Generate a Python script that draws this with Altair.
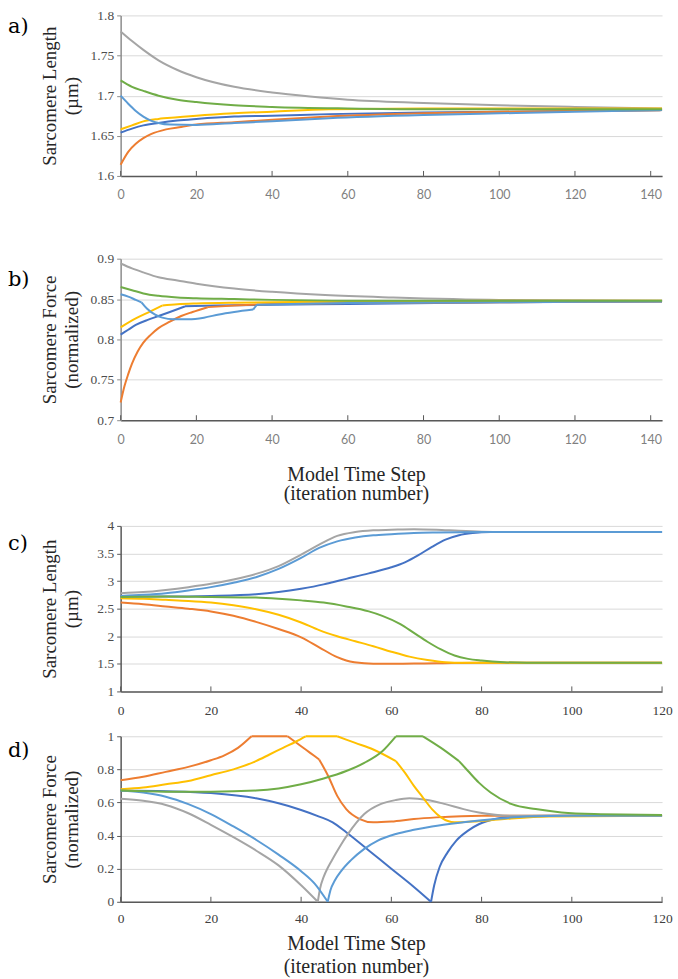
import altair as alt
import pandas as pd

# ---------------- series (Excel palette order) ----------------
SERIES = ["s1", "s2", "s3", "s4", "s5", "s6"]
COLORS = ["#4472C4", "#ED7D31", "#A5A5A5", "#FFC000", "#5B9BD5", "#70AD47"]

# ---------------- panel a: sarcomere length ----------------
A_X_S1 = [0, 3, 6, 10, 15, 20, 30, 40, 55, 80, 100, 120, 143]
A_Y_S1 = [1.654, 1.659, 1.663, 1.666, 1.669, 1.671, 1.674, 1.675, 1.677, 1.679, 1.680, 1.681, 1.682]
A_X_S2 = [0, 2, 4, 6, 8, 12, 16, 20, 30, 40, 55, 80, 100, 120, 143]
A_Y_S2 = [1.614, 1.630, 1.640, 1.647, 1.652, 1.658, 1.661, 1.664, 1.667, 1.670, 1.674, 1.678, 1.680, 1.681, 1.682]
A_X_S3 = [0, 3, 6, 10, 15, 20, 30, 40, 50, 60, 80, 100, 120, 143]
A_Y_S3 = [1.780, 1.768, 1.757, 1.744, 1.732, 1.723, 1.711, 1.704, 1.699, 1.695, 1.691, 1.688, 1.686, 1.684]
A_X_S4 = [0, 3, 6, 10, 15, 20, 30, 40, 55, 80, 143]
A_Y_S4 = [1.658, 1.663, 1.668, 1.671, 1.673, 1.675, 1.678, 1.680, 1.683, 1.684, 1.684]
A_X_S5 = [0, 2, 4, 6, 8, 10, 13, 20, 30, 40, 55, 80, 100, 120, 143]
A_Y_S5 = [1.700, 1.690, 1.681, 1.674, 1.669, 1.666, 1.664, 1.6635, 1.666, 1.668, 1.672, 1.676, 1.678, 1.680, 1.682]
A_X_S6 = [0, 3, 6, 10, 15, 20, 30, 40, 60, 80, 143]
A_Y_S6 = [1.719, 1.711, 1.706, 1.700, 1.695, 1.692, 1.688, 1.686, 1.684, 1.683, 1.683]

# ---------------- panel b: sarcomere force ----------------
B_X_S1 = [0, 2, 4, 7, 10, 13, 17, 25, 40, 60, 100, 143]
B_Y_S1 = [0.806, 0.812, 0.818, 0.824, 0.829, 0.834, 0.841, 0.842, 0.843, 0.844, 0.846, 0.847]
B_BRK_S1 = [17]
B_X_S2 = [0, 1, 2, 3, 4.5, 6, 8, 10, 13, 16, 19, 23, 30, 40, 60, 100, 143]
B_Y_S2 = [0.722, 0.742, 0.757, 0.770, 0.785, 0.796, 0.806, 0.814, 0.822, 0.829, 0.834, 0.840, 0.842, 0.844, 0.845, 0.846, 0.847]
B_BRK_S2 = [23]
B_X_S3 = [0, 3, 6, 10, 15, 20, 30, 40, 54, 72, 100, 143]
B_Y_S3 = [0.894, 0.888, 0.883, 0.877, 0.873, 0.869, 0.863, 0.859, 0.855, 0.852, 0.849, 0.848]
B_BRK_S3 = []
B_X_S4 = [0, 4, 8, 11, 15, 20, 30, 40, 60, 100, 143]
B_Y_S4 = [0.815, 0.826, 0.835, 0.842, 0.8435, 0.8445, 0.8455, 0.846, 0.847, 0.848, 0.848]
B_BRK_S4 = [11]
B_X_S5 = [0, 2, 4, 5.5, 7, 9, 11, 14, 18, 22, 26, 30, 35, 36, 45, 60, 100, 143]
B_Y_S5 = [0.856, 0.853, 0.849, 0.846, 0.838, 0.831, 0.827, 0.825, 0.825, 0.827, 0.831, 0.834, 0.837, 0.843, 0.844, 0.845, 0.846, 0.847]
B_BRK_S5 = [5.5, 35, 36]
B_X_S6 = [0, 3, 6, 10, 15, 20, 30, 40, 60, 143]
B_Y_S6 = [0.865, 0.861, 0.857, 0.854, 0.852, 0.851, 0.850, 0.849, 0.848, 0.848]
B_BRK_S6 = []

# ---------------- panel c: sarcomere length ----------------
C_X_S1 = [0, 10, 20, 30, 35, 40, 45, 47, 50, 55, 60, 63, 66, 69, 72, 75, 78, 82, 120]
C_Y_S1 = [2.72, 2.72, 2.73, 2.76, 2.80, 2.86, 2.94, 2.98, 3.04, 3.14, 3.25, 3.34, 3.47, 3.62, 3.75, 3.83, 3.87, 3.89, 3.89]
C_X_S2 = [0, 5, 10, 15, 20, 25, 30, 35, 40, 44, 48, 50, 54, 58, 65, 70, 80, 120]
C_Y_S2 = [2.61, 2.58, 2.54, 2.50, 2.45, 2.37, 2.26, 2.13, 1.98, 1.80, 1.62, 1.56, 1.51, 1.50, 1.505, 1.51, 1.52, 1.52]
C_X_S3 = [0, 5, 10, 15, 20, 25, 30, 35, 40, 44, 48, 52, 56, 60, 65, 70, 75, 80, 85, 120]
C_Y_S3 = [2.78, 2.80, 2.84, 2.89, 2.95, 3.03, 3.13, 3.27, 3.48, 3.66, 3.82, 3.89, 3.92, 3.93, 3.94, 3.93, 3.91, 3.895, 3.89, 3.89]
C_X_S4 = [0, 5, 10, 15, 20, 25, 30, 35, 40, 44, 48, 52, 56, 60, 64, 68, 72, 76, 120]
C_Y_S4 = [2.69, 2.68, 2.66, 2.64, 2.61, 2.56, 2.49, 2.39, 2.25, 2.11, 2.00, 1.91, 1.82, 1.72, 1.63, 1.57, 1.53, 1.52, 1.52]
C_X_S5 = [0, 5, 10, 15, 20, 25, 30, 35, 40, 44, 48, 52, 56, 60, 65, 70, 80, 120]
C_Y_S5 = [2.73, 2.75, 2.78, 2.83, 2.89, 2.97, 3.07, 3.22, 3.42, 3.60, 3.72, 3.79, 3.83, 3.85, 3.87, 3.88, 3.89, 3.89]
C_X_S6 = [0, 10, 20, 30, 35, 40, 45, 50, 55, 58, 62, 65, 68, 71, 74, 77, 80, 85, 90, 120]
C_Y_S6 = [2.71, 2.72, 2.71, 2.70, 2.68, 2.65, 2.61, 2.54, 2.45, 2.37, 2.22, 2.06, 1.90, 1.76, 1.65, 1.59, 1.56, 1.53, 1.52, 1.52]

# ---------------- panel d: sarcomere force ----------------
D_X_S1 = [0, 10, 20, 30, 35, 40, 44, 47, 50, 55, 60, 65, 68.8, 69.5, 70.7, 72.5, 74.4, 77, 79.5, 83, 86.8, 95, 120]
D_Y_S1 = [0.672, 0.668, 0.657, 0.625, 0.595, 0.555, 0.515, 0.48, 0.42, 0.31, 0.20, 0.09, 0.0, 0.10, 0.21, 0.30, 0.37, 0.43, 0.47, 0.50, 0.515, 0.52, 0.52]
D_BRK_S1 = [68.8]
D_X_S2 = [0, 5, 10, 15, 20, 23, 26, 29, 37, 40, 42, 44, 46, 48, 50, 53, 56, 60, 65, 70, 80, 120]
D_Y_S2 = [0.735, 0.755, 0.785, 0.815, 0.855, 0.885, 0.93, 1.0, 1.0, 0.94, 0.90, 0.86, 0.76, 0.64, 0.56, 0.50, 0.48, 0.485, 0.50, 0.51, 0.52, 0.52]
D_BRK_S2 = [29, 37, 44]
D_X_S3 = [0, 5, 10, 15, 20, 25, 30, 35, 40, 43.7, 44.2, 45, 46, 46.8, 48.5, 50.4, 54, 57.6, 61, 64, 68, 72, 76, 79.4, 86.7, 95, 120]
D_Y_S3 = [0.622, 0.61, 0.585, 0.535, 0.465, 0.39, 0.31, 0.22, 0.10, 0.0, 0.08, 0.15, 0.21, 0.25, 0.33, 0.41, 0.53, 0.59, 0.615, 0.625, 0.615, 0.59, 0.56, 0.54, 0.52, 0.52, 0.52]
D_BRK_S3 = [43.7]
D_X_S4 = [0, 5, 10, 15, 20, 25, 30, 33, 36, 39, 41, 48, 52, 56, 61, 63, 65, 67, 69, 71, 74, 78, 85, 95, 120]
D_Y_S4 = [0.68, 0.69, 0.71, 0.73, 0.765, 0.80, 0.85, 0.89, 0.93, 0.97, 1.0, 1.0, 0.96, 0.92, 0.85, 0.78, 0.70, 0.63, 0.56, 0.51, 0.48, 0.485, 0.50, 0.515, 0.52]
D_BRK_S4 = [41, 48, 61]
D_X_S5 = [0, 5, 10, 15, 20, 25, 30, 35, 40, 43, 45.9, 46.5, 47.5, 49, 51, 54, 57, 61, 65, 69, 76, 83, 90, 100, 120]
D_Y_S5 = [0.672, 0.66, 0.635, 0.59, 0.53, 0.455, 0.375, 0.285, 0.185, 0.11, 0.0, 0.07, 0.13, 0.19, 0.25, 0.32, 0.37, 0.41, 0.435, 0.455, 0.48, 0.50, 0.515, 0.52, 0.52]
D_BRK_S5 = [45.9]
D_X_S6 = [0, 10, 20, 30, 35, 40, 45, 50, 54, 58, 61, 67, 71, 75, 77, 79.4, 82, 86.7, 92, 97.7, 105, 120]
D_Y_S6 = [0.672, 0.665, 0.665, 0.672, 0.685, 0.71, 0.745, 0.79, 0.84, 0.91, 1.0, 1.0, 0.93, 0.85, 0.79, 0.72, 0.66, 0.59, 0.56, 0.54, 0.53, 0.525]
D_BRK_S6 = [61, 67, 75]

# ---------------- axes ----------------
A_YTICKS = [1.6, 1.65, 1.7, 1.75, 1.8]
B_YTICKS = [0.7, 0.75, 0.8, 0.85, 0.9]
C_YTICKS = [1, 1.5, 2, 2.5, 3, 3.5, 4]
D_YTICKS = [0, 0.2, 0.4, 0.6, 0.8, 1]
AB_XTICKS = [0, 20, 40, 60, 80, 100, 120, 140]
CD_XTICKS = [0, 20, 40, 60, 80, 100, 120]

TITLE_LEN = ["Sarcomere Length", "(µm)"]
TITLE_FORCE = ["Sarcomere Force", "(normalized)"]
TITLE_X = ["Model Time Step", "(iteration number)"]

SERIF = "Liberation Serif"
W = 543


def build_frame(xs_list, ys_list, brk_list=None):
    rows = []
    for i, s in enumerate(SERIES):
        xs, ys = xs_list[i], ys_list[i]
        brk = brk_list[i] if brk_list else []
        seg = 0
        for x, y in zip(xs, ys):
            rows.append({"series": s, "seg": f"{s}_{seg}", "x": x, "y": y})
            if x in brk:
                seg += 1
                rows.append({"series": s, "seg": f"{s}_{seg}", "x": x, "y": y})
    return pd.DataFrame(rows)


def panel(df, xdom, xticks, ydom, yticks, ytitle, label, label_y, h,
          sans_x, xtitle=None, xtitle_y=0, xtitle_lh=20, x_lab_pad=13, ydomain_color="#8c8c8c"):
    if sans_x:
        xlab = dict(labelFont="Lato", labelFontSize=12.5, labelColor="#7f7f7f")
    else:
        xlab = dict(labelFont=SERIF, labelFontSize=13.5, labelColor="#404040")
    xaxis_kw = dict(values=xticks, format="d", ticks=False, grid=False,
                    domainColor="#595959", domainWidth=1.5, labelPadding=x_lab_pad,
                    labelFlush=False, **xlab)
    if xtitle:
        xaxis_kw.update(title=xtitle, titleFont=SERIF, titleFontSize=20, titleFontWeight="normal",
                        titleColor="#262626", titleX=236, titleY=xtitle_y, titleAlign="center",
                        titleBaseline="middle", titleLineHeight=xtitle_lh, titleAngle=0)
    else:
        xaxis_kw.update(title=None)
    xaxis = alt.Axis(**xaxis_kw)
    xscale = alt.Scale(domain=xdom, nice=False, zero=False)
    yaxis = alt.Axis(values=yticks, format="~g", title=ytitle, titleFont=SERIF, titleFontSize=19,
                     titleFontWeight="normal", titleColor="#262626", titleX=-71, titleY=h / 2,
                     titleAngle=-90, titleAlign="center", titleBaseline="middle", titleLineHeight=22,
                     labelFont=SERIF, labelFontSize=13.5, labelColor="#4d4d4d", labelPadding=3,
                     tickSize=4, tickColor=ydomain_color, domainColor=ydomain_color, domainWidth=1.5,
                     grid=True, gridColor="#d9d9d9", gridWidth=1)
    lines = alt.Chart(df).mark_line(strokeWidth=2, interpolate="monotone").encode(
        x=alt.X("x:Q", scale=xscale, axis=xaxis),
        y=alt.Y("y:Q", scale=alt.Scale(domain=ydom, nice=False, zero=False), axis=yaxis),
        color=alt.Color("series:N", scale=alt.Scale(domain=SERIES, range=COLORS), legend=None),
        detail="seg:N",
    )
    ticks = alt.Chart(pd.DataFrame({"x": xticks})).mark_rule(color="#595959", strokeWidth=1).encode(
        x=alt.X("x:Q", scale=xscale, axis=xaxis), y=alt.value(h - 5), y2=alt.value(h))
    lab = alt.Chart(pd.DataFrame({"lab": [label]})).mark_text(
        font="DejaVu Serif", fontSize=21, align="left", baseline="middle", color="#000000").encode(
        text="lab:N", x=alt.value(-113), y=alt.value(label_y))
    return alt.layer(lines, ticks, lab).properties(width=W, height=h)


dfa = build_frame([A_X_S1, A_X_S2, A_X_S3, A_X_S4, A_X_S5, A_X_S6],
                  [A_Y_S1, A_Y_S2, A_Y_S3, A_Y_S4, A_Y_S5, A_Y_S6])
dfb = build_frame([B_X_S1, B_X_S2, B_X_S3, B_X_S4, B_X_S5, B_X_S6],
                  [B_Y_S1, B_Y_S2, B_Y_S3, B_Y_S4, B_Y_S5, B_Y_S6],
                  [B_BRK_S1, B_BRK_S2, B_BRK_S3, B_BRK_S4, B_BRK_S5, B_BRK_S6])
dfc = build_frame([C_X_S1, C_X_S2, C_X_S3, C_X_S4, C_X_S5, C_X_S6],
                  [C_Y_S1, C_Y_S2, C_Y_S3, C_Y_S4, C_Y_S5, C_Y_S6])
dfd = build_frame([D_X_S1, D_X_S2, D_X_S3, D_X_S4, D_X_S5, D_X_S6],
                  [D_Y_S1, D_Y_S2, D_Y_S3, D_Y_S4, D_Y_S5, D_Y_S6],
                  [D_BRK_S1, D_BRK_S2, D_BRK_S3, D_BRK_S4, D_BRK_S5, D_BRK_S6])

pa = panel(dfa, [0, 143], AB_XTICKS, [1.6, 1.8], A_YTICKS, TITLE_LEN, "a)", 12, 161, True)
pb = panel(dfb, [0, 143], AB_XTICKS, [0.7, 0.9], B_YTICKS, TITLE_FORCE, "b)", 21, 162, True,
           xtitle=TITLE_X, xtitle_y=54, xtitle_lh=20)
pc = panel(dfc, [0, 120], CD_XTICKS, [1, 4], C_YTICKS, TITLE_LEN, "c)", 18, 166, False,
           x_lab_pad=12, ydomain_color="#595959")
pd_ = panel(dfd, [0, 120], CD_XTICKS, [0, 1], D_YTICKS, TITLE_FORCE, "d)", 15, 166, False,
            xtitle=TITLE_X, xtitle_y=42, xtitle_lh=23, x_lab_pad=10, ydomain_color="#595959")

chart = alt.vconcat(
    alt.vconcat(pa, pb, spacing=50),
    alt.vconcat(pc, pd_, spacing=12),
    spacing=15,
).properties(
    padding={"left": 8, "top": 7, "right": 5, "bottom": 5}
).configure_view(stroke=None)

chart.save("out.html", embed_options={"renderer": "svg", "actions": False})
